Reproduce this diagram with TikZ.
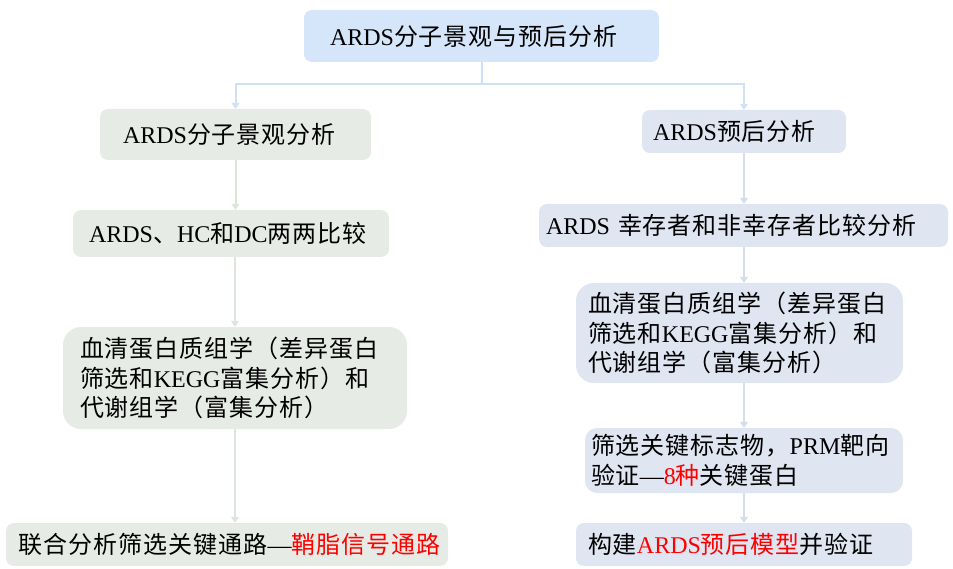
\documentclass[tikz,border=0pt]{standalone}
\usepackage{fontspec}
\setmainfont{Liberation Serif}
\newfontfamily\cjk[LetterSpace=4]{Noto Sans CJK SC}
\usetikzlibrary{arrows.meta}
\definecolor{topfill}{HTML}{D6E6FA}
\definecolor{leftfill}{HTML}{E6ECE5}
\definecolor{rightfill}{HTML}{DFE5F1}
\definecolor{topline}{HTML}{CFE1F8}
\definecolor{leftline}{HTML}{DDE6DC}
\definecolor{rightline}{HTML}{D5DDEF}
\definecolor{redtxt}{HTML}{FF0000}
\newcommand{\zh}[1]{{\cjk #1}}
\newcommand{\rd}[1]{{\color{redtxt}#1}}
\tikzset{
  bx/.style={rounded corners=8pt, inner ysep=0pt, align=left, anchor=center,
    font=\fontsize{24}{29.5}\selectfont},
  lbx/.style={bx, fill=leftfill},
  rbx/.style={bx, fill=rightfill},
  conn/.style={line width=2pt, -{Triangle[width=8pt,length=6pt]}},
}
\begin{document}
\begin{tikzpicture}[x=1pt,y=-1pt]
\useasboundingbox (0,0) rectangle (953,569);
% top
\node[bx, fill=topfill, minimum width=355pt, minimum height=52pt, text width=303pt, inner xsep=26pt] (top) at (481.5,36) {\mbox{ARDS\zh{分子景观与预后分析}}};
% left column
\node[lbx, minimum width=271pt, minimum height=51pt, text width=225pt, inner xsep=23pt] (L1) at (235.5,134.5) {\mbox{ARDS\zh{分子景观分析}}};
\node[lbx, minimum width=316pt, minimum height=47pt, text width=284pt, inner xsep=16pt] (L2) at (231,233.5) {\mbox{ARDS\zh{、}HC\zh{和}DC\zh{两两比较}}};
\node[lbx, rounded corners=18pt, minimum width=344pt, minimum height=102pt, text width=310pt, inner xsep=17pt] (L3) at (235,378) {\zh{血清蛋白质组学（差异蛋白}\\\zh{筛选和}KEGG\zh{富集分析）和}\\\zh{代谢组学（富集分析）}};
\node[lbx, minimum width=442pt, minimum height=43pt, text width=416pt, inner xsep=13pt] (L4) at (227,544.5) {\mbox{\zh{联合分析筛选关键通路}—\rd{\zh{鞘脂信号通路}}}};
% right column
\node[rbx, minimum width=204pt, minimum height=43pt, text width=182pt, inner xsep=11pt] (R1) at (744,131.5) {\mbox{ARDS\zh{预后分析}}};
\node[rbx, minimum width=409pt, minimum height=43pt, text width=395pt, inner xsep=7pt] (R2) at (743.5,225.5) {\mbox{ARDS \zh{幸存者和非幸存者比较分析}}};
\node[rbx, rounded corners=18pt, minimum width=327pt, minimum height=100pt, text width=303pt, inner xsep=12pt] (R3) at (739.5,333) {\zh{血清蛋白质组学（差异蛋白}\\\zh{筛选和}KEGG\zh{富集分析）和}\\\zh{代谢组学（富集分析）}};
\node[rbx, rounded corners=12pt, minimum width=318pt, minimum height=65pt, text width=306pt, inner xsep=6pt] (R4) at (744,460.5) {\mbox{\zh{筛选关键标志物，}PRM\zh{靶向}}\\\mbox{\zh{验证}—\rd{8\zh{种}}\zh{关键蛋白}}};
\node[rbx, minimum width=336pt, minimum height=43pt, text width=312pt, inner xsep=12pt] (R5) at (744,544.5) {\mbox{\zh{构建}\rd{ARDS\zh{预后模型}}\zh{并验证}}};
% connectors
\draw[conn, topline] (top.south) -- ++(0,22) -| (L1.north);
\draw[conn, topline] (top.south) -- ++(0,22) -| (R1.north);
\draw[conn, leftline] (L1.south) -- (L1.south |- L2.north);
\draw[conn, leftline] (L2.south -| L3.north) -- (L3.north);
\draw[conn, leftline] (L3.south) -- (L3.south |- L4.north);
\draw[conn, rightline] (R1.south) -- (R1.south |- R2.north);
\draw[conn, rightline] (R2.south -| R1.south) -- (R3.north -| R1.south);
\draw[conn, rightline] (R3.south -| R1.south) -- (R4.north -| R1.south);
\draw[conn, rightline] (R4.south) -- (R5.north);
\end{tikzpicture}
\end{document}
